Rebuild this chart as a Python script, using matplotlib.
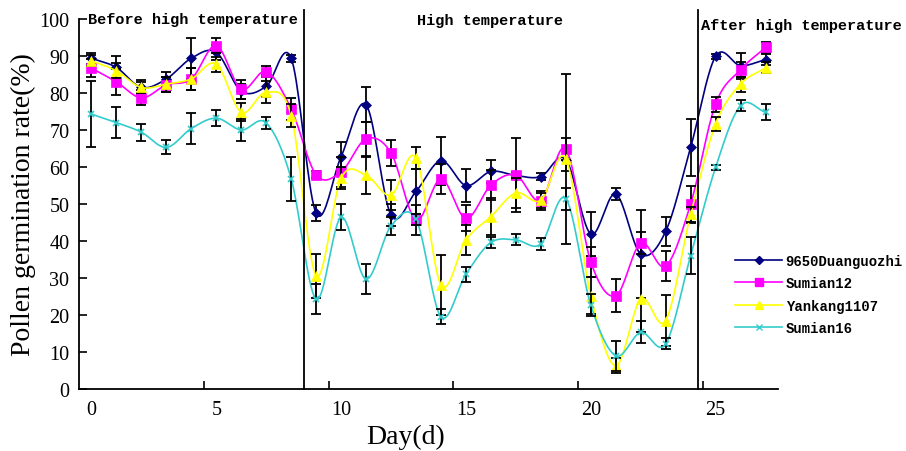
import numpy as np
import matplotlib
matplotlib.use("Agg")
import matplotlib.pyplot as plt
from matplotlib.lines import Line2D

# day index of each sampling point (0..27)
days = np.arange(28)
tick_days = [0, 5, 10, 15, 20, 25]

names = ['9650Duanguozhi', 'Sumian12', 'Yankang1107', 'Sumian16']

duan = [89.4, 86.9, 81.5, 83.8, 89.4, 91.0, 80.5, 81.8, 89.4, 47.5, 62.8, 76.8, 47.0, 53.4,
        61.7, 55.0, 58.8, 57.7, 57.4, 62.0, 41.9, 52.7, 36.5, 42.6, 65.3, 89.9, 87.4, 89.0]
sumian12 = [86.7, 83.0, 78.7, 82.2, 83.8, 92.8, 81.0, 85.8, 75.7, 57.9, 58.7, 67.6, 63.8, 45.7,
            56.8, 46.1, 55.1, 57.8, 50.9, 64.9, 34.4, 25.2, 39.4, 33.2, 50.0, 77.0, 86.3, 92.3]
yankang = [88.7, 86.0, 81.5, 82.4, 83.8, 87.8, 74.8, 80.2, 73.9, 30.6, 57.0, 57.8, 52.4, 62.4,
           28.1, 40.3, 46.6, 53.0, 51.0, 62.2, 25.2, 6.3, 24.3, 18.5, 47.2, 71.6, 82.4, 86.8]
sumian16 = [74.3, 72.0, 69.4, 65.3, 70.4, 73.2, 70.0, 71.9, 56.8, 24.3, 46.4, 29.7, 44.1, 45.9,
            19.5, 31.0, 39.6, 40.3, 39.2, 51.4, 22.7, 9.0, 15.3, 12.2, 36.0, 59.9, 76.6, 74.8]

duan_err = [1.5, 3.0, 2.0, 2.0, 5.5, 2.0, 2.0, 3.0, 1.0, 2.2, 4.0, 4.7, 3.0, 6.0,
            6.5, 4.5, 3.0, 1.0, 1.0, 3.0, 6.0, 1.5, 12.0, 4.0, 7.7, 0.6, 3.5, 1.5]
sumian12_err = [2.5, 3.5, 2.0, 2.0, 3.0, 2.0, 2.5, 1.5, 3.0, 1.0, 4.0, 4.5, 3.5, 4.0,
                4.0, 3.5, 4.0, 10.0, 2.5, 3.0, 4.0, 4.5, 3.0, 4.0, 5.0, 2.0, 2.0, 1.5]
yankang_err = [1.5, 2.0, 1.5, 2.0, 3.0, 2.0, 2.5, 3.0, 3.0, 6.0, 3.0, 5.0, 4.0, 3.0,
               8.0, 4.0, 5.0, 4.0, 2.0, 23.0, 5.0, 2.0, 9.0, 7.0, 2.0, 2.0, 2.0, 1.5]
sumian16_err = [9.0, 4.2, 2.3, 1.9, 4.2, 2.2, 2.9, 1.5, 6.0, 4.0, 3.5, 4.0, 2.5, 1.5,
                2.0, 2.0, 1.5, 1.5, 1.5, 3.0, 3.0, 4.0, 3.0, 1.5, 5.0, 0.7, 1.5, 2.2]

# phase boundaries (between sampling points)
phase_lines = [8.53, 24.28]

colors = ['#000080', '#ff00ff', '#ffff00', '#33cccc']
markers = ['D', 's', '^', 'x']
msizes = [5.5, 7, 7.5, 5]


def smooth(x, y, n=20):
    # Catmull-Rom curve through the points, like a spreadsheet "smoothed line"
    x = np.asarray(x, float)
    y = np.asarray(y, float)
    px = np.concatenate([[2 * x[0] - x[1]], x, [2 * x[-1] - x[-2]]])
    py = np.concatenate([[2 * y[0] - y[1]], y, [2 * y[-1] - y[-2]]])
    t = np.linspace(0, 1, n, endpoint=False)
    xs, ys = [], []
    for i in range(1, len(px) - 2):
        for p, out in ((px, xs), (py, ys)):
            p0, p1, p2, p3 = p[i - 1], p[i], p[i + 1], p[i + 2]
            out.extend(0.5 * ((2 * p1) + (-p0 + p2) * t
                              + (2 * p0 - 5 * p1 + 4 * p2 - p3) * t ** 2
                              + (-p0 + 3 * p1 - 3 * p2 + p3) * t ** 3))
    xs.append(x[-1])
    ys.append(y[-1])
    return np.array(xs), np.array(ys)


fig = plt.figure(figsize=(9.06, 4.52), dpi=100)
ax = fig.add_axes([79 / 906, 62 / 452, 699 / 906, 370 / 452])

series = [duan, sumian12, yankang, sumian16]
errors = [duan_err, sumian12_err, yankang_err, sumian16_err]

for i, (vals, err) in enumerate(zip(series, errors)):
    sx, sy = smooth(days, vals)
    ax.plot(sx, sy, color=colors[i], lw=1.2, zorder=2 + i)
    ax.errorbar(days, vals, yerr=err, fmt='none', ecolor='black', elinewidth=1.3,
                capsize=3.8, capthick=1.3, zorder=2.5 + i)
    ax.plot(days, vals, linestyle='none', marker=markers[i], color=colors[i],
            markersize=msizes[i], markeredgewidth=1.2 if markers[i] == 'x' else 0.5,
            markeredgecolor=colors[i], zorder=2.8 + i)

for xv in phase_lines:
    ax.plot([xv, xv], [0, 102.5], color='black', lw=1.3, clip_on=False, zorder=10)

ax.set_xlim(-0.5, 27.5)
ax.set_ylim(0, 100)

ax.spines['top'].set_visible(False)
ax.spines['right'].set_visible(False)
for s in ('left', 'bottom'):
    ax.spines[s].set_linewidth(1.3)

serif = 'Liberation Serif'
mono = 'Liberation Mono'

ax.set_yticks(np.arange(0, 101, 10))
ax.tick_params(axis='y', direction='in', length=6, width=1.2, pad=7,
               labelsize=14.5, labelfontfamily=serif)
# tick marks sit between points, labels sit under the points
ax.set_xticks([d - 0.5 for d in tick_days[1:]])
ax.set_xticklabels([])
ax.set_xticks(tick_days, minor=True)
ax.set_xticklabels([str(d) for d in tick_days], minor=True)
ax.tick_params(axis='x', which='major', direction='in', length=6, width=1.2)
ax.tick_params(axis='x', which='minor', length=0, pad=8,
               labelsize=14.5, labelfontfamily=serif)

ax.set_ylabel('Pollen germination rate(%)', fontsize=20, family=serif, labelpad=2)
ax.set_xlabel('Day(d)', fontsize=20, family=serif)
ax.xaxis.set_label_coords(0.467, -0.095)

ax.text(-0.15, 100, 'Before high temperature', family=mono, fontweight='bold',
        fontsize=11, ha='left', va='center', clip_on=False, zorder=11)
ax.text(15.95, 99.6, 'High temperature', family=mono, fontweight='bold',
        fontsize=11, ha='center', va='center', clip_on=False, zorder=11)
ax.text(24.4, 98.4, 'After high temperature', family=mono, fontweight='bold',
        fontsize=11, ha='left', va='center', clip_on=False, zorder=11)

handles = [Line2D([], [], color=colors[i], lw=1.2, marker=markers[i],
                  markersize=msizes[i] * 0.8, markeredgecolor=colors[i])
           for i in range(4)]
ax.legend(handles, names, loc='upper left', bbox_to_anchor=(735 / 906, 1 - 255 / 452),
          bbox_transform=fig.transFigure, frameon=False, borderpad=0, borderaxespad=0,
          handlelength=3.4, handletextpad=0.25, labelspacing=0.6,
          prop={'family': mono, 'weight': 'bold', 'size': 10})

fig.savefig('out.png', dpi=100)
